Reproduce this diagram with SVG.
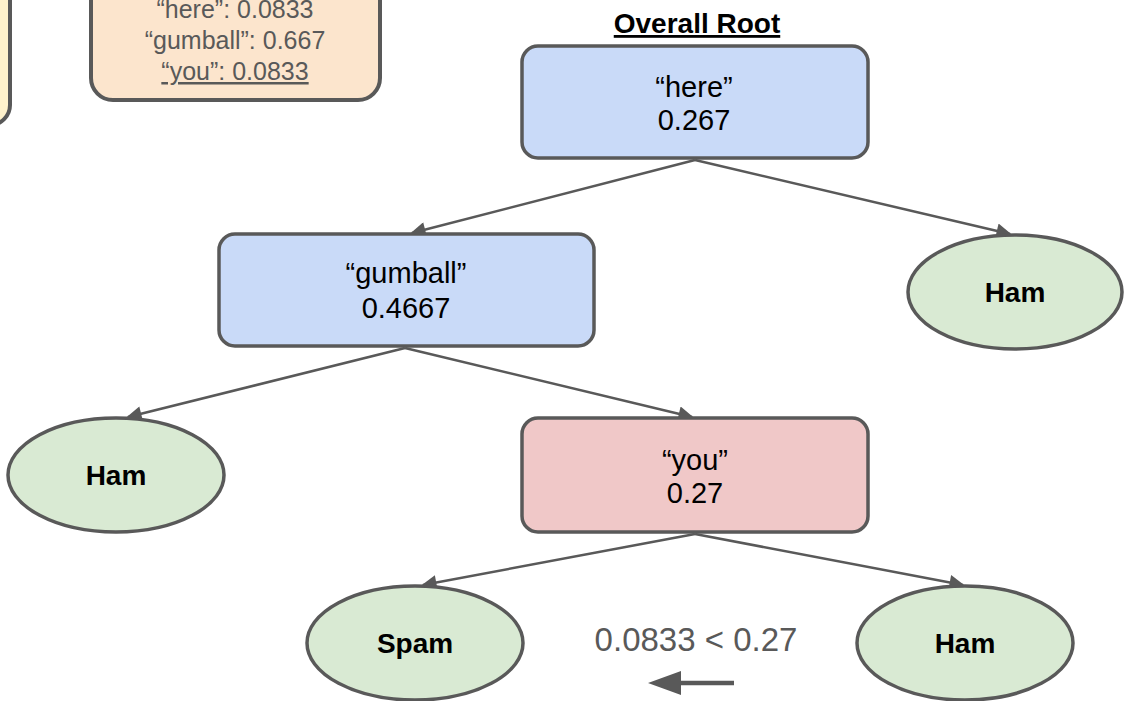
<svg xmlns="http://www.w3.org/2000/svg" width="1126" height="701" viewBox="0 0 1126 701">
<style>
.box{stroke:#595959;stroke-width:3.5}
.blue{fill:#c9daf8}.red{fill:#f0c8c8}.green{fill:#d9ead3}
.t{font-family:"Liberation Sans",Arial,sans-serif;font-size:29px;fill:#000;text-anchor:middle}
.b{font-family:"Liberation Sans",Arial,sans-serif;font-size:28px;font-weight:bold;fill:#000;text-anchor:middle}
.g{font-family:"Liberation Sans",Arial,sans-serif;font-size:25px;fill:#595959;text-anchor:middle}
.edge{stroke:#595959;stroke-width:2.5;fill:none;marker-end:url(#ah)}
</style>
<defs>
<marker id="ah" viewBox="0 0 10 10" refX="9" refY="5" markerWidth="8.5" markerHeight="6" markerUnits="strokeWidth" orient="auto">
<path d="M0,0 L10,5 L0,10 Z" fill="#595959"/>
</marker>
</defs>
<rect width="1126" height="701" fill="#fff"/>
<g id="yellow-note">
<rect x="-300" y="-80" width="310" height="205" rx="20" fill="#fff2cc" stroke="#595959" stroke-width="4"/>
</g>
<g id="peach-note">
<rect x="91" y="-80" width="289" height="180" rx="22" fill="#fce5cd" stroke="#595959" stroke-width="4"/>
<text class="g" x="235" y="18">“here”: 0.0833</text>
<text class="g" x="235" y="49">“gumball”: 0.667</text>
<text class="g" x="235" y="80" text-decoration="underline">“you”: 0.0833</text>
</g>
<g id="title">
<text x="697" y="33" font-family="Liberation Sans,Arial,sans-serif" font-size="28" font-weight="bold" text-anchor="middle" text-decoration="underline" fill="#000">Overall Root</text>
</g>
<g id="connectors">
<line class="edge" x1="695" y1="160" x2="412" y2="233"/>
<line class="edge" x1="695" y1="160" x2="1010" y2="234"/>
<line class="edge" x1="405" y1="348" x2="128" y2="417"/>
<line class="edge" x1="405" y1="348" x2="692" y2="417"/>
<line class="edge" x1="695" y1="534" x2="423" y2="585"/>
<line class="edge" x1="695" y1="534" x2="963" y2="585"/>
</g>
<g id="root">
<rect class="box blue" x="522" y="46" width="346" height="112" rx="16"/>
<text class="t" x="694" y="97">“here”</text>
<text class="t" x="694" y="130">0.267</text>
</g>
<g id="gumball">
<rect class="box blue" x="219" y="234" width="375" height="112" rx="16"/>
<text class="t" x="406" y="283">“gumball”</text>
<text class="t" x="406" y="318">0.4667</text>
</g>
<g id="you">
<rect class="box red" x="522" y="418" width="346" height="114" rx="16"/>
<text class="t" x="695" y="470">“you”</text>
<text class="t" x="695" y="503">0.27</text>
</g>
<g id="ham-right">
<ellipse class="box green" cx="1015" cy="292" rx="107" ry="57"/>
<text class="b" x="1015" y="302">Ham</text>
</g>
<g id="ham-left">
<ellipse class="box green" cx="116" cy="475" rx="108" ry="57"/>
<text class="b" x="116" y="485">Ham</text>
</g>
<g id="spam">
<ellipse class="box green" cx="415" cy="643" rx="108" ry="57"/>
<text class="b" x="415" y="653">Spam</text>
</g>
<g id="ham-bottom">
<ellipse class="box green" cx="965" cy="643" rx="108" ry="57"/>
<text class="b" x="965" y="653">Ham</text>
</g>
<g id="comparison">
<text x="696" y="651" font-family="Liberation Sans,Arial,sans-serif" font-size="33" fill="#595959" text-anchor="middle">0.0833 &lt; 0.27</text>
<line x1="734" y1="683" x2="676" y2="683" stroke="#595959" stroke-width="4.5"/>
<path d="M648,683 L681,671 L681,695 Z" fill="#595959"/>
</g>
</svg>
